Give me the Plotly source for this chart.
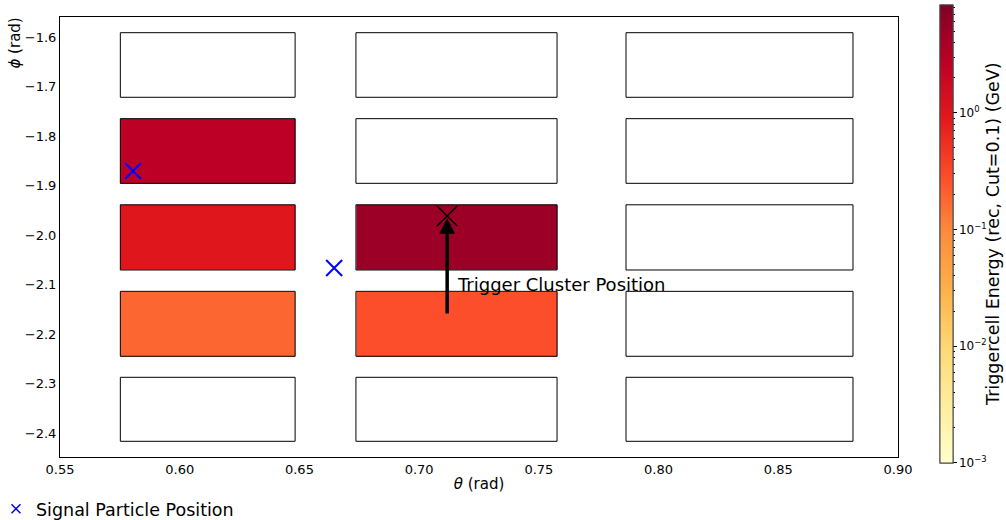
import math
import numpy as np
import plotly.graph_objects as go
import plotly.colors as pc

# ---------------- data ----------------
theta_lo = [0.5752, 0.6736, 0.7864]          # cell left edges (rad)
theta_hi = [0.6482, 0.7576, 0.8812]          # cell right edges (rad)
phi_lo = [-2.4168, -2.2450, -2.0707, -1.8956, -1.7218]   # cell bottom edges (rad)
phi_hi = [-2.2875, -2.1138, -1.9390, -1.7650, -1.5913]   # cell top edges (rad)

# energies per row (bottom -> top), per column (left -> right); None = empty cell
energy = [
    [None, None, None],
    [0.184, 0.283, None],
    [0.99, 5.0, None],
    [2.71, None, None],
    [None, None, None],
]
E_MIN = 1e-3
E_MAX = 8.4

signal_theta = [0.5805, 0.6645]
signal_phi = [-1.8707, -2.0667]
cluster_theta = [0.7117]
cluster_phi = [-1.9616]
arrow_tail_phi = -2.1616
label_text = "Trigger Cluster Position"
cbar_title = "Triggercell Energy (rec, Cut=0.1) (GeV)"

x_ticks = [0.55, 0.60, 0.65, 0.70, 0.75, 0.80, 0.85, 0.90]
y_ticks = [-2.4, -2.3, -2.2, -2.1, -2.0, -1.9, -1.8, -1.7, -1.6]
cbar_ticks = [-3, -2, -1, 0]
cbar_ticktext = ["10<sup>\u22123</sup>", "10<sup>\u22122</sup>", "10<sup>\u22121</sup>", "10<sup>0</sup>"]

# ---------------- build heatmap bricks (cells + gaps) ----------------
x_edges = []
for i in range(len(theta_lo)):
    x_edges += [theta_lo[i], theta_hi[i]]
y_edges = []
for j in range(len(phi_lo)):
    y_edges += [phi_lo[j], phi_hi[j]]

nx = len(x_edges) - 1
ny = len(y_edges) - 1
z = [[None] * nx for _ in range(ny)]
for j, row in enumerate(energy):
    for i, e in enumerate(row):
        if e is not None:
            z[2 * j][2 * i] = math.log10(e)

colorscale = pc.sequential.YlOrRd
zmin, zmax = math.log10(E_MIN), math.log10(E_MAX)
minor_vals = [math.log10(k * 10 ** n) for n in range(-3, 1) for k in range(2, 10) if k * 10 ** n <= E_MAX]

cbar_geom = dict(x=1.050, xanchor="left", xpad=0, y=0.507, yanchor="middle", ypad=0,
                 lenmode="pixels", len=458, thickness=13, outlinewidth=1, outlinecolor="#444")

fig = go.Figure()

# minor-tick colorbar (no labels), drawn underneath the main one
fig.add_trace(go.Scatter(
    x=[None], y=[None], mode="markers", showlegend=False, hoverinfo="skip",
    marker=dict(color=[zmin, zmax], cmin=zmin, cmax=zmax, colorscale=colorscale, showscale=True,
                colorbar=dict(**cbar_geom, tickvals=minor_vals, showticklabels=False,
                              ticks="outside", ticklen=2, tickwidth=0.8, tickcolor="black")),
))

fig.add_trace(go.Heatmap(
    x=x_edges, y=y_edges, z=z,
    zmin=zmin, zmax=zmax,
    colorscale=colorscale, hoverinfo="skip", showscale=True,
    colorbar=dict(
        **cbar_geom,
        tickvals=cbar_ticks, ticktext=cbar_ticktext,
        ticks="outside", ticklen=3.5, tickwidth=1, tickcolor="black",
        tickfont=dict(family="DejaVu Sans", size=12, color="black"),
    ),
))

# cell outlines
ox, oy = [], []
for j in range(len(phi_lo)):
    for i in range(len(theta_lo)):
        ox += [theta_lo[i], theta_hi[i], theta_hi[i], theta_lo[i], theta_lo[i], None]
        oy += [phi_lo[j], phi_lo[j], phi_hi[j], phi_hi[j], phi_lo[j], None]
fig.add_trace(go.Scatter(x=ox, y=oy, mode="lines", line=dict(color="black", width=1),
                         hoverinfo="skip", showlegend=False))

# signal particle markers
fig.add_trace(go.Scatter(x=signal_theta, y=signal_phi, mode="markers",
                         marker=dict(symbol="x-thin", size=16, line=dict(color="blue", width=2)),
                         showlegend=False))
# legend proxy
fig.add_trace(go.Scatter(x=[None], y=[None], mode="markers", name="Signal Particle Position",
                         marker=dict(symbol="x-thin", size=9, line=dict(color="blue", width=1.5)),
                         showlegend=True))

# trigger cluster marker
fig.add_trace(go.Scatter(x=cluster_theta, y=cluster_phi, mode="markers",
                         marker=dict(symbol="x-thin", size=20, line=dict(color="black", width=1.5)),
                         showlegend=False))

# arrow + label
fig.add_annotation(x=cluster_theta[0], y=cluster_phi[0] - 0.004, ax=cluster_theta[0], ay=arrow_tail_phi,
                   xref="x", yref="y", axref="x", ayref="y", text="", showarrow=True,
                   arrowhead=2, arrowsize=0.9, arrowwidth=3.5, arrowcolor="black")
fig.add_annotation(x=cluster_theta[0] + 0.0033, y=-2.101, xref="x", yref="y", text=label_text,
                   showarrow=False, xanchor="left", yanchor="middle",
                   font=dict(family="DejaVu Sans", size=18, color="black"))

# phi axis label (top-left like matplotlib placement)
fig.add_annotation(x=-0.0535, y=0.94, xref="paper", yref="paper", text="<i>\u03d5</i> (rad)",
                   showarrow=False, textangle=-90, xanchor="center", yanchor="middle",
                   font=dict(family="DejaVu Sans", size=15, color="black"))

# colorbar title
fig.add_annotation(x=1.1134, y=0.507, xref="paper", yref="paper", text=cbar_title,
                   showarrow=False, textangle=-90, xanchor="center", yanchor="middle",
                   font=dict(family="DejaVu Sans", size=17.5, color="black"))

axis_common = dict(showgrid=False, zeroline=False, showline=True, linecolor="black", linewidth=1,
                   mirror=True, ticks="", tickfont=dict(family="DejaVu Sans", size=13, color="black"))

fig.update_xaxes(range=[0.55, 0.90], tickvals=x_ticks,
                 ticktext=[f"{v:.2f}" for v in x_ticks],
                 title=dict(text="<i>\u03b8</i> (rad)", font=dict(family="DejaVu Sans", size=15, color="black"),
                            standoff=2),
                 **axis_common)
fig.update_yaxes(range=[-2.4485, -1.5596], tickvals=y_ticks,
                 ticktext=[f"{v:.1f}".replace("-", "\u2212") for v in y_ticks], **axis_common)

fig.update_layout(
    width=1006, height=520,
    margin=dict(l=60, r=108, t=17, b=63, autoexpand=False),
    paper_bgcolor="white", plot_bgcolor="white",
    font=dict(family="DejaVu Sans", color="black"),
    legend=dict(orientation="h", x=-0.0764, xanchor="left", y=-0.118, yanchor="middle",
                font=dict(family="DejaVu Sans", size=17.5, color="black"), bgcolor="rgba(0,0,0,0)"),
)

fig.write_html("out.html")
